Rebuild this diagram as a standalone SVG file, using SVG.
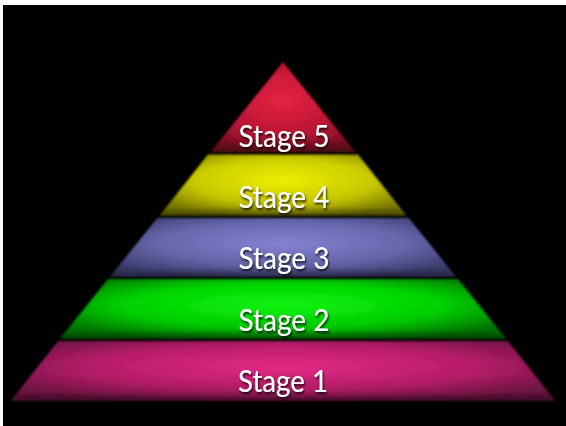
<svg xmlns="http://www.w3.org/2000/svg" width="566" height="426" viewBox="0 0 566 426">
<defs>
<style>
.lbl{font-family:Lato,"Open Sans","DejaVu Sans",sans-serif;font-size:31px;fill:#ffffff;text-anchor:middle;filter:url(#tsh)}
.band{filter:url(#soft)}
</style>
<filter id="soft" x="-5%" y="-10%" width="110%" height="120%"><feGaussianBlur stdDeviation="0.9"/></filter>
<filter id="tsh" x="-10%" y="-20%" width="120%" height="150%"><feDropShadow dx="1" dy="2" stdDeviation="1.2" flood-color="#000" flood-opacity="0.8"/></filter>
<radialGradient id="g5" cx="0.5" cy="0.45" r="0.6"><stop offset="0" stop-color="#f02444"/><stop offset="0.6" stop-color="#c81838"/><stop offset="1" stop-color="#8a0f26"/></radialGradient>
<radialGradient id="g4" cx="0.5" cy="0.45" r="0.6"><stop offset="0" stop-color="#f8f800"/><stop offset="0.6" stop-color="#d2d200"/><stop offset="1" stop-color="#808000"/></radialGradient>
<radialGradient id="g3" cx="0.5" cy="0.45" r="0.6"><stop offset="0" stop-color="#8888dc"/><stop offset="0.6" stop-color="#6a6ab2"/><stop offset="1" stop-color="#3e3e72"/></radialGradient>
<radialGradient id="g2" cx="0.5" cy="0.45" r="0.6"><stop offset="0" stop-color="#10ff10"/><stop offset="0.6" stop-color="#00d800"/><stop offset="1" stop-color="#007800"/></radialGradient>
<radialGradient id="g1" cx="0.5" cy="0.45" r="0.6"><stop offset="0" stop-color="#ee2c8c"/><stop offset="0.6" stop-color="#bc1e6c"/><stop offset="1" stop-color="#701444"/></radialGradient>
<linearGradient id="shade" x1="0" y1="0" x2="0" y2="1"><stop offset="0" stop-color="#000" stop-opacity="0"/><stop offset="0.85" stop-color="#000" stop-opacity="0.08"/><stop offset="1" stop-color="#000" stop-opacity="0.45"/></linearGradient>
</defs>
<rect x="0" y="0" width="566" height="426" fill="#ffffff"/>
<rect x="3" y="5" width="563" height="421" fill="#000000"/>
<g id="stage5" class="band">
<polygon points="283,62 355.5,152 210.5,152" fill="url(#g5)"/>
<polygon points="283,62 355.5,152 210.5,152" fill="url(#shade)"/>
</g>
<g id="stage4" class="band">
<polygon points="208,154.5 358,154.5 406.3,215.5 159.7,215.5" fill="url(#g4)"/>
<polygon points="208,154.5 358,154.5 406.3,215.5 159.7,215.5" fill="url(#shade)"/>
</g>
<g id="stage3" class="band">
<polygon points="157.3,218 408.7,218 456.3,277 109.7,277" fill="url(#g3)"/>
<polygon points="157.3,218 408.7,218 456.3,277 109.7,277" fill="url(#shade)"/>
</g>
<g id="stage2" class="band">
<polygon points="108.1,279 457.9,279 506.3,339 59.7,339" fill="url(#g2)"/>
<polygon points="108.1,279 457.9,279 506.3,339 59.7,339" fill="url(#shade)"/>
</g>
<g id="stage1" class="band">
<polygon points="58.1,341 507.9,341 555.4,401 10.6,401" fill="url(#g1)"/>
<polygon points="58.1,341 507.9,341 555.4,401 10.6,401" fill="url(#shade)"/>
</g>
<g id="labels">
<text class="lbl" x="284" y="147" textLength="91" lengthAdjust="spacingAndGlyphs">Stage 5</text>
<text class="lbl" x="284" y="208" textLength="91" lengthAdjust="spacingAndGlyphs">Stage 4</text>
<text class="lbl" x="284" y="269" textLength="91" lengthAdjust="spacingAndGlyphs">Stage 3</text>
<text class="lbl" x="284" y="331" textLength="91" lengthAdjust="spacingAndGlyphs">Stage 2</text>
<text class="lbl" x="283" y="392" textLength="90" lengthAdjust="spacingAndGlyphs">Stage 1</text>
</g>
</svg>
